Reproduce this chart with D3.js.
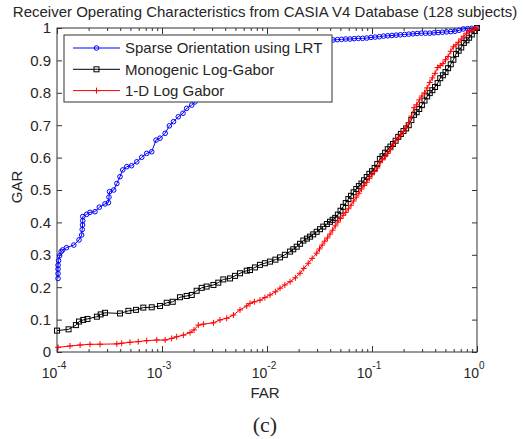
<!DOCTYPE html>
<html>
<head>
<meta charset="utf-8">
<script src="https://cdn.jsdelivr.net/npm/d3@7"></script>
<style>
    body { margin: 0; background: #fff; }
    text { font-family: "Liberation Sans", Arial, sans-serif; fill: #262626; }
</style>
</head>
<body>
<div class="rocContainer"></div>
<script>
// log10(FAR) and GAR values
var seriesNames = ["Sparse Orientation using LRT", "Monogenic Log-Gabor", "1-D Log Gabor"];

var logFarSparse = [-3.99,-3.99,-3.99,-3.99,-3.985,-3.975,-3.96,-3.946,-3.91,-3.84,
    -3.79,-3.765,-3.76,-3.757,-3.755,-3.755,-3.717,-3.686,-3.638,-3.597,
    -3.543,-3.51,-3.505,-3.50,-3.46,-3.43,-3.40,-3.374,-3.336,-3.29,
    -3.24,-3.193,-3.146,-3.098,-3.057,-3.019,-2.97,-2.93,-2.89,-2.845,
    -2.80,-2.765,-2.717,-2.686,
    -2.5,-2.25,-2.0,-1.75,-1.5,
    -1.37,-1.33,-1.29,-1.25,-1.21,-1.17,-1.13,-1.09,-1.05,-1.01,
    -0.97,-0.93,-0.89,-0.85,-0.81,-0.77,-0.73,-0.69,-0.65,-0.61,
    -0.57,-0.53,-0.49,-0.45,-0.41,-0.37,-0.33,-0.29,-0.25,-0.21,
    -0.17,-0.13,-0.09,-0.05,0];
var garSparse = [0.227,0.242,0.256,0.268,0.282,0.297,0.31,0.315,0.322,0.33,
    0.346,0.361,0.378,0.392,0.405,0.418,0.425,0.431,0.433,0.447,
    0.457,0.461,0.478,0.495,0.50,0.52,0.541,0.562,0.572,0.575,
    0.587,0.601,0.613,0.618,0.654,0.66,0.675,0.698,0.711,0.726,
    0.737,0.752,0.762,0.772,
    0.83,0.88,0.92,0.945,0.958,
    0.963,0.964,0.965,0.966,0.966,0.967,0.968,0.968,0.969,0.971,
    0.972,0.973,0.975,0.976,0.977,0.978,0.979,0.980,0.981,0.982,
    0.983,0.984,0.984,0.984,0.985,0.986,0.987,0.988,0.989,0.990,
    0.993,0.997,0.998,0.999,1.0];

var logFarMono = [-4.0,-3.89,-3.82,-3.79,-3.75,-3.71,-3.62,-3.584,-3.543,-3.40,
    -3.32,-3.248,-3.178,-3.098,-3.019,-2.955,-2.898,-2.829,-2.765,-2.717,
    -2.67,-2.622,-2.575,-2.51,-2.464,-2.416,-2.352,-2.305,-2.257,-2.193,
    -2.162,-2.115,-2.067,-2.02,-1.971,-1.92,-1.876,-1.83,-1.78,-1.75,
    -1.717,-1.685,-1.654,-1.62,-1.59,-1.56,-1.527,-1.495,-1.464,-1.43,
    -1.40,-1.375,-1.35,-1.325,-1.30,-1.275,-1.25,-1.225,-1.20,-1.175,
    -1.15,-1.125,-1.10,-1.075,-1.05,-1.025,-1.00,-0.975,-0.95,-0.925,
    -0.90,-0.875,-0.85,-0.825,-0.80,-0.775,-0.75,-0.725,-0.70,-0.675,
    -0.65,-0.625,-0.60,-0.575,-0.55,-0.525,-0.50,-0.475,-0.45,-0.425,
    -0.40,-0.375,-0.35,-0.325,-0.30,-0.275,-0.25,-0.225,-0.20,-0.175,
    -0.15,-0.125,-0.10,-0.075,-0.05,-0.025,0];
var garMono = [0.066,0.070,0.083,0.094,0.099,0.102,0.109,0.116,0.121,0.119,
    0.127,0.130,0.137,0.138,0.142,0.152,0.155,0.169,0.173,0.176,
    0.189,0.198,0.202,0.207,0.214,0.224,0.227,0.235,0.243,0.251,
    0.253,0.261,0.269,0.274,0.279,0.285,0.292,0.300,0.31,0.317,
    0.325,0.334,0.344,0.350,0.356,0.363,0.371,0.379,0.387,0.395,
    0.402,0.408,0.414,0.424,0.436,0.448,0.460,0.472,0.482,0.493,
    0.503,0.512,0.520,0.530,0.540,0.550,0.558,0.568,0.580,0.596,
    0.604,0.615,0.626,0.634,0.642,0.652,0.664,0.673,0.682,0.690,
    0.700,0.716,0.732,0.740,0.750,0.762,0.776,0.789,0.799,0.808,
    0.818,0.830,0.845,0.854,0.864,0.876,0.888,0.902,0.920,0.930,
    0.940,0.954,0.962,0.970,0.980,0.991,1.0];

var logFarLog = [-3.99,-3.876,-3.78,-3.686,-3.59,-3.43,-3.384,-3.305,-3.226,-3.146,
    -3.05,-2.97,-2.908,-2.86,-2.797,-2.733,-2.695,-2.654,-2.606,-2.51,
    -2.448,-2.384,-2.32,-2.257,-2.193,
    -2.162,-2.12,-2.067,-2.02,-1.971,-1.92,-1.876,-1.83,-1.78,-1.73,
    -1.686,-1.65,-1.607,-1.57,-1.527,
    -1.50,-1.475,-1.45,-1.425,-1.40,-1.375,-1.35,-1.325,-1.30,-1.275,
    -1.25,-1.225,-1.20,-1.175,-1.15,-1.125,-1.10,-1.075,-1.05,-1.025,
    -1.00,-0.975,-0.95,-0.925,-0.90,-0.875,-0.85,-0.825,-0.80,-0.775,
    -0.75,-0.725,-0.70,-0.675,-0.65,-0.625,-0.60,-0.575,-0.55,-0.525,
    -0.50,-0.475,-0.45,-0.425,-0.40,-0.375,-0.35,-0.325,-0.30,-0.275,
    -0.25,-0.225,-0.20,-0.175,-0.15,-0.125,-0.10,-0.075,-0.05,-0.025,0];
var garLog = [0.0145,0.0185,0.0216,0.0237,0.024,0.025,0.027,0.030,0.032,0.035,
    0.037,0.037,0.042,0.047,0.052,0.060,0.068,0.083,0.086,0.090,
    0.099,0.104,0.114,0.13,0.142,
    0.150,0.155,0.16,0.168,0.176,0.186,0.197,0.207,0.217,0.229,
    0.243,0.258,0.274,0.289,0.305,
    0.318,0.330,0.342,0.352,0.364,0.376,0.389,0.401,0.412,0.422,
    0.431,0.442,0.453,0.466,0.478,0.490,0.503,0.514,0.524,0.536,
    0.547,0.557,0.568,0.584,0.593,0.603,0.613,0.624,0.638,0.652,
    0.660,0.670,0.681,0.692,0.708,0.728,0.754,0.763,0.778,0.790,
    0.800,0.815,0.832,0.846,0.860,0.878,0.884,0.890,0.902,0.912,
    0.928,0.942,0.948,0.956,0.966,0.975,0.984,0.990,0.994,0.997,1.0];

var colors  = ["#0000ff", "#000000", "#ff0000"];
var markers = ["circle", "square", "plus"];

function rocChart()
{
    var left = 57, right = 477, top = 28, bottom = 352;

    var svg = d3.select(".rocContainer")
        .append("svg")
        .attr("width", 524)
        .attr("height", 439);

    var x = d3.scaleLog().domain([1e-4, 1]).range([left, right]);
    var y = d3.scaleLinear().domain([0, 1]).range([bottom, top]);

    var series = [
        {name: seriesNames[0], far: logFarSparse, gar: garSparse},
        {name: seriesNames[1], far: logFarMono, gar: garMono},
        {name: seriesNames[2], far: logFarLog, gar: garLog}
    ].map(function (s, i) {
        s.color  = colors[i];
        s.marker = markers[i];
        s.points = s.far.map(function (f, j) { return [Math.pow(10, f), s.gar[j]]; });
        return s;
    });

    // axes: ticks inside the box, like the matlab figure
    var xTicks = x.ticks();
    var isMajor = function (d) { return Math.abs(Math.log10(d) - Math.round(Math.log10(d))) < 1e-9; };

    var bottomAxis = svg.append("g")
        .attr("transform", "translate(0," + bottom + ")")
        .call(d3.axisBottom(x).tickValues(xTicks).tickSizeInner(-3).tickSizeOuter(0).tickFormat(""));
    var topAxis = svg.append("g")
        .attr("transform", "translate(0," + top + ")")
        .call(d3.axisTop(x).tickValues(xTicks).tickSizeInner(-3).tickSizeOuter(0).tickFormat(""));
    bottomAxis.selectAll(".tick line").filter(isMajor).attr("y2", -6);
    topAxis.selectAll(".tick line").filter(isMajor).attr("y2", 6);

    var yFmt = d3.format(".1~f");
    var leftAxis = svg.append("g")
        .attr("transform", "translate(" + left + ",0)")
        .call(d3.axisLeft(y).ticks(10).tickSizeInner(-5).tickSizeOuter(0).tickPadding(6).tickFormat(yFmt));
    svg.append("g")
        .attr("transform", "translate(" + right + ",0)")
        .call(d3.axisRight(y).ticks(10).tickSizeInner(-5).tickSizeOuter(0).tickFormat(""));

    svg.selectAll(".domain").remove();
    svg.selectAll(".tick line").attr("stroke", "#333");
    leftAxis.selectAll("text")
        .style("font-size", "15px")
        .attr("fill", "#262626")
        .style("font-family", "Liberation Sans, Arial, sans-serif");

    // x tick labels 10^k
    var xl = svg.append("g").selectAll("text")
        .data(xTicks.filter(isMajor))
        .enter()
            .append("text")
            .attr("x", function (d) { return x(d) - 3; })
            .attr("y", 378)
            .attr("text-anchor", "middle")
            .style("font-size", "14px");
    xl.append("tspan").text("10");
    xl.append("tspan")
        .attr("dy", -9)
        .style("font-size", "10px")
        .text(function (d) { return Math.round(Math.log10(d)); });

    // plot box
    svg.append("rect")
        .attr("x", left).attr("y", top)
        .attr("width", right - left).attr("height", bottom - top)
        .attr("fill", "none")
        .attr("stroke", "#333");

    var line = d3.line()
        .x(function (d) { return x(d[0]); })
        .y(function (d) { return y(d[1]); });

    function drawMarker(sel, type, color) {
        if (type === "circle") {
            sel.append("circle").attr("r", 2.3).attr("fill", "none").attr("stroke", color);
        } else if (type === "square") {
            sel.append("rect").attr("x", -2.5).attr("y", -2.5).attr("width", 5).attr("height", 5)
                .attr("fill", "none").attr("stroke", color);
        } else {
            sel.append("path").attr("d", "M-3,0H3M0,-3V3").attr("stroke", color);
        }
    }

    var groups = svg.selectAll(".roc")
        .data(series)
        .enter()
            .append("g")
            .attr("class", "roc");

    groups.append("path")
        .attr("d", function (s) { return line(s.points); })
        .attr("fill", "none")
        .attr("stroke", function (s) { return s.color; })
        .attr("stroke-width", 1);

    groups.each(function (s) {
        var m = d3.select(this).selectAll(".mk")
            .data(s.points)
            .enter()
                .append("g")
                .attr("class", "mk")
                .attr("transform", function (d) { return "translate(" + x(d[0]) + "," + y(d[1]) + ")"; });
        drawMarker(m, s.marker, s.color);
    });

    // legend
    var legend = svg.append("g");
    legend.append("rect")
        .attr("x", 64).attr("y", 35)
        .attr("width", 268).attr("height", 67)
        .attr("fill", "#fff")
        .attr("stroke", "#333");
    var item = legend.selectAll(".item")
        .data(series)
        .enter()
            .append("g")
            .attr("class", "item")
            .attr("transform", function (s, i) { return "translate(0," + (48 + i * 21.3) + ")"; });
    item.append("line")
        .attr("x1", 73).attr("x2", 120)
        .attr("stroke", function (s) { return s.color; });
    item.each(function (s) {
        var g = d3.select(this).append("g").attr("transform", "translate(96.5,0)");
        drawMarker(g, s.marker, s.color);
    });
    item.append("text")
        .attr("x", 125)
        .attr("dy", "0.35em")
        .style("font-size", "15px")
        .text(function (s) { return s.name; });

    // titles
    svg.append("text")
        .attr("x", 265).attr("y", 17)
        .attr("text-anchor", "middle")
        .style("font-size", "15px")
        .text("Receiver Operating Characteristics from CASIA V4 Database (128 subjects)");
    svg.append("text")
        .attr("x", 265).attr("y", 398)
        .attr("text-anchor", "middle")
        .style("font-size", "15px")
        .text("FAR");
    svg.append("text")
        .attr("transform", "translate(22,187) rotate(-90)")
        .attr("text-anchor", "middle")
        .style("font-size", "15px")
        .text("GAR");
    svg.append("text")
        .attr("x", 265).attr("y", 432)
        .attr("text-anchor", "middle")
        .style("font-family", "Liberation Serif, Times New Roman, serif")
        .style("font-size", "22px")
        .text("(c)");
}

rocChart();
</script>
</body>
</html>
